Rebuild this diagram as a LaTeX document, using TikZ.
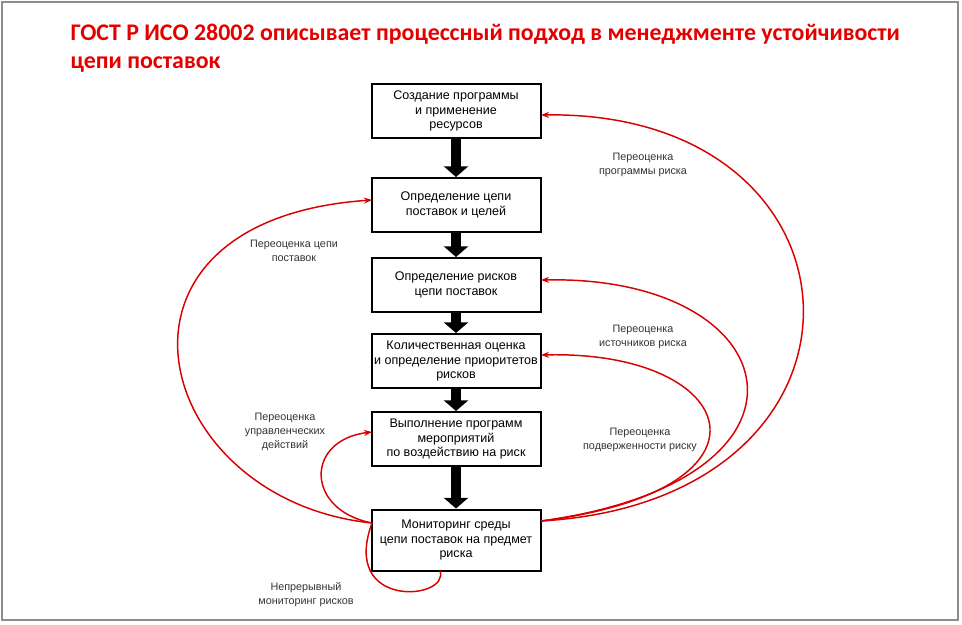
\documentclass[tikz,border=0pt]{standalone}
\usepackage{fontspec}
\setmainfont{Liberation Sans}
\newfontfamily\titlefont{Carlito}
\usetikzlibrary{arrows.meta}
\begin{document}
\begin{tikzpicture}[x=0.75pt,y=-0.75pt,
  stage/.style={draw,line width=1.5pt,minimum width=169*0.75pt,minimum height=54*0.75pt,
    align=center,font=\fontsize{9.4}{11}\selectfont,inner sep=1pt},
  flow/.style={line width=7.5pt,-{Triangle[width=18pt,length=8pt]}},
  review/.style={red!85!black,line width=1.1pt,-{Stealth[length=6pt,width=4.5pt]}},
  note/.style={align=center,font=\fontsize{8.1}{10.5}\selectfont,text=black!80}]
\useasboundingbox (0,0) rectangle (962,624);
\draw[black!45,line width=1pt] (2,2) rectangle (958,620);
% title
\node[anchor=north west,align=left,text=red!90!black,font=\titlefont\bfseries\fontsize{17.9}{21}\selectfont]
  (title) at (66,19) {ГОСТ Р ИСО 28002 описывает процессный подход в менеджменте устойчивости\\цепи поставок};
% stages
\node[stage] (create) at (456,111) {Создание программы\\и применение\\ресурсов};
\node[stage] (chain) at (456,205) {Определение цепи\\поставок и целей};
\node[stage] (risks) at (456,285) {Определение рисков\\цепи поставок};
\node[stage] (quant) at (456,361) {Количественная оценка\\и определение приоритетов\\рисков};
\node[stage] (exec) at (456,439) {Выполнение программ\\мероприятий\\по воздействию на риск};
\node[stage,minimum height=61*0.75pt] (monitor) at (456,540) {Мониторинг среды\\цепи поставок на предмет\\риска};
\foreach \a/\b in {create/chain,chain/risks,risks/quant,quant/exec,exec/monitor}
  \draw[flow] (\a) -- (\b);
% feedback loops
\coordinate (mL) at (372,523);
\coordinate (mR) at (541,521);
\draw[review] (mL) .. controls (150,500) and (80,220) .. (372,200);
\draw[review] (mR) .. controls (900,500) and (880,110) .. (541,115);
\draw[review] (mR) .. controls (840,480) and (790,275) .. (541,280);
\draw[review] (mR) .. controls (790,490) and (740,350) .. (541,355);
\draw[review] (mL) .. controls (305,510) and (305,440) .. (372,432);
\draw[red!85!black,line width=1.1pt] (mL) .. controls (340,610) and (450,600) .. (440,571);
% labels
\node[note] (lprog) at (643,165) {Переоценка\\программы риска};
\node[note] (lchain) at (294,251) {Переоценка цепи\\поставок};
\node[note] (lsrc) at (643,337) {Переоценка\\источников риска};
\node[note] (lexp) at (640,440) {Переоценка\\подверженности риску};
\node[note] (lact) at (285,432) {Переоценка\\управленческих\\действий};
\node[note] (lcont) at (306,595) {Непрерывный\\мониторинг рисков};
\end{tikzpicture}
\end{document}
